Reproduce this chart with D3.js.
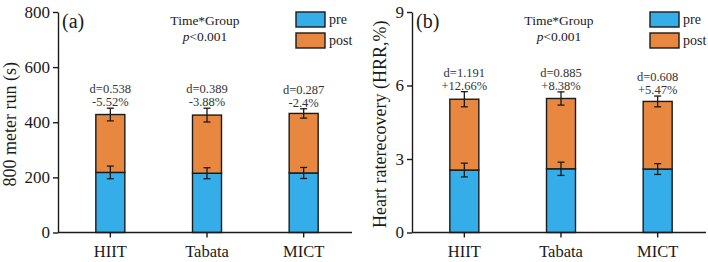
<!DOCTYPE html>
<html>
<head>
<meta charset="utf-8">
<script src="https://cdn.jsdelivr.net/npm/d3@7"></script>
<style>
  body { margin: 0; background: #fff; }
  svg { display: block; font-family: "Liberation Serif", "Times New Roman", serif; }
</style>
</head>
<body>
<div id="chart"></div>
<script>
// groups + series
const groups = ['HIIT', 'Tabata', 'MICT'];
const seriesNames = ['pre', 'post'];

// panel (a): 800 meter run
const runPre = [218, 215, 216];
const runPost = [210, 211, 216];
const runPreErr = [23, 20, 20];
const runPostErr = [23, 25, 17];
const runD = ['d=0.538', 'd=0.389', 'd=0.287'];
const runPct = ['-5.52%', '-3.88%', '-2.4%'];
const runTicks = [0, 200, 400, 600, 800];

// panel (b): heart rate recovery
const hrrPre = [2.55, 2.6, 2.59];
const hrrPost = [2.89, 2.87, 2.76];
const hrrPreErr = [0.28, 0.27, 0.22];
const hrrPostErr = [0.31, 0.27, 0.22];
const hrrD = ['d=1.191', 'd=0.885', 'd=0.608'];
const hrrPct = ['+12.66%', '+8.38%', '+5.47%'];
const hrrTicks = [0, 3, 6, 9];

const colors = { pre: '#35ade9', post: '#e8873f' };
const ink = '#1a1a1a';

const width = 708, height = 262;
const svg = d3.select('#chart').append('svg')
  .attr('width', width)
  .attr('height', height);

function drawPanel(o) {
  const g = svg.append('g').attr('transform', `translate(${o.dx},0)`);
  const top = 12, bottom = 232.5, axisX = 58, axisEnd = 352;

  const x = d3.scaleBand()
    .domain(groups)
    .range([62, 352])
    .paddingInner(0.7)
    .paddingOuter(0.35);

  const y = d3.scaleLinear()
    .domain([0, o.max])
    .range([bottom, top]);

  // stacked bars
  const rows = groups.map((k, i) => ({ group: k, pre: o.pre[i], post: o.post[i] }));
  const stacked = d3.stack().keys(seriesNames)(rows);

  g.selectAll('g.layer')
    .data(stacked)
    .enter().append('g')
    .attr('fill', d => colors[d.key])
    .selectAll('rect')
    .data(d => d)
    .enter().append('rect')
    .attr('x', d => x(d.data.group))
    .attr('y', d => y(d[1]))
    .attr('width', x.bandwidth())
    .attr('height', d => y(d[0]) - y(d[1]))
    .attr('stroke', ink)
    .attr('stroke-width', 1.4);

  // error bars at each segment top
  const errs = [];
  groups.forEach((k, i) => {
    errs.push({ group: k, v: o.pre[i], e: o.preErr[i] });
    errs.push({ group: k, v: o.pre[i] + o.post[i], e: o.postErr[i] });
  });
  const cx = k => x(k) + x.bandwidth() / 2;
  const eb = g.selectAll('g.err').data(errs).enter().append('g')
    .attr('stroke', ink).attr('stroke-width', 1.3);
  eb.append('line')
    .attr('x1', d => cx(d.group)).attr('x2', d => cx(d.group))
    .attr('y1', d => y(d.v - d.e)).attr('y2', d => y(d.v + d.e));
  eb.append('line')
    .attr('x1', d => cx(d.group) - 3.5).attr('x2', d => cx(d.group) + 3.5)
    .attr('y1', d => y(d.v + d.e)).attr('y2', d => y(d.v + d.e));
  eb.append('line')
    .attr('x1', d => cx(d.group) - 3.5).attr('x2', d => cx(d.group) + 3.5)
    .attr('y1', d => y(d.v - d.e)).attr('y2', d => y(d.v - d.e));

  // effect size labels above the post error bar
  groups.forEach((k, i) => {
    const yTop = y(o.pre[i] + o.post[i] + o.postErr[i]);
    g.append('text')
      .attr('x', cx(k)).attr('y', yTop - 15)
      .attr('text-anchor', 'middle')
      .attr('font-size', 12.5).attr('fill', '#333')
      .text(o.d[i]);
    g.append('text')
      .attr('x', cx(k)).attr('y', yTop - 2)
      .attr('text-anchor', 'middle')
      .attr('font-size', 12.5).attr('fill', '#333')
      .text(o.pct[i]);
  });

  // y axis
  const ya = g.append('g')
    .attr('transform', `translate(${axisX},0)`)
    .call(d3.axisLeft(y).tickValues(o.ticks).tickSize(5).tickSizeOuter(0).tickPadding(3))
    .attr('font-family', null).attr('font-size', 17);
  ya.selectAll('text').attr('fill', ink);
  ya.selectAll('line, path').attr('stroke', ink).attr('stroke-width', 1.4);

  // x axis
  const xa = g.append('g')
    .attr('transform', `translate(0,${bottom})`)
    .call(d3.axisBottom(x).tickSize(5).tickSizeOuter(0).tickPadding(8))
    .attr('font-family', null).attr('font-size', 16.5);
  xa.select('.domain').remove();
  xa.append('line')
    .attr('x1', axisX).attr('x2', axisEnd)
    .attr('stroke', ink).attr('stroke-width', 1.4);
  xa.selectAll('text').attr('fill', ink);
  xa.selectAll('line').attr('stroke', ink).attr('stroke-width', 1.4);

  // y label
  g.append('text')
    .attr('transform', `translate(${o.labelX},${(top + bottom) / 2 + 2}) rotate(-90)`)
    .attr('text-anchor', 'middle')
    .attr('dominant-baseline', 'central')
    .attr('font-size', 18).attr('fill', ink)
    .text(o.label);

  // panel tag
  g.append('text')
    .attr('x', 62).attr('y', 28)
    .attr('font-size', 20).attr('fill', ink)
    .text(o.tag);

  // interaction note
  g.append('text')
    .attr('x', 205).attr('y', 25)
    .attr('text-anchor', 'middle')
    .attr('font-size', 13.5).attr('fill', ink)
    .text('Time*Group');
  const pt = g.append('text')
    .attr('x', 205).attr('y', 41)
    .attr('text-anchor', 'middle')
    .attr('font-size', 13.5).attr('fill', ink);
  pt.append('tspan').attr('font-style', 'italic').text('p');
  pt.append('tspan').text('<0.001');

  // legend
  seriesNames.forEach((s, i) => {
    g.append('rect')
      .attr('x', 296).attr('y', 12 + i * 21)
      .attr('width', 29).attr('height', 15)
      .attr('fill', colors[s])
      .attr('stroke', ink).attr('stroke-width', 1.4);
    g.append('text')
      .attr('x', 329).attr('y', 24 + i * 21)
      .attr('font-size', 14).attr('fill', ink)
      .text(s);
  });
}

drawPanel({
  dx: 0, max: 800, ticks: runTicks,
  pre: runPre, post: runPost, preErr: runPreErr, postErr: runPostErr,
  d: runD, pct: runPct, label: '800 meter run (s)', labelX: 10, tag: '(a)'
});

drawPanel({
  dx: 354, max: 9, ticks: hrrTicks,
  pre: hrrPre, post: hrrPost, preErr: hrrPreErr, postErr: hrrPostErr,
  d: hrrD, pct: hrrPct, label: 'Heart raterecovery (HRR,%)', labelX: 26, tag: '(b)'
});
</script>
</body>
</html>
